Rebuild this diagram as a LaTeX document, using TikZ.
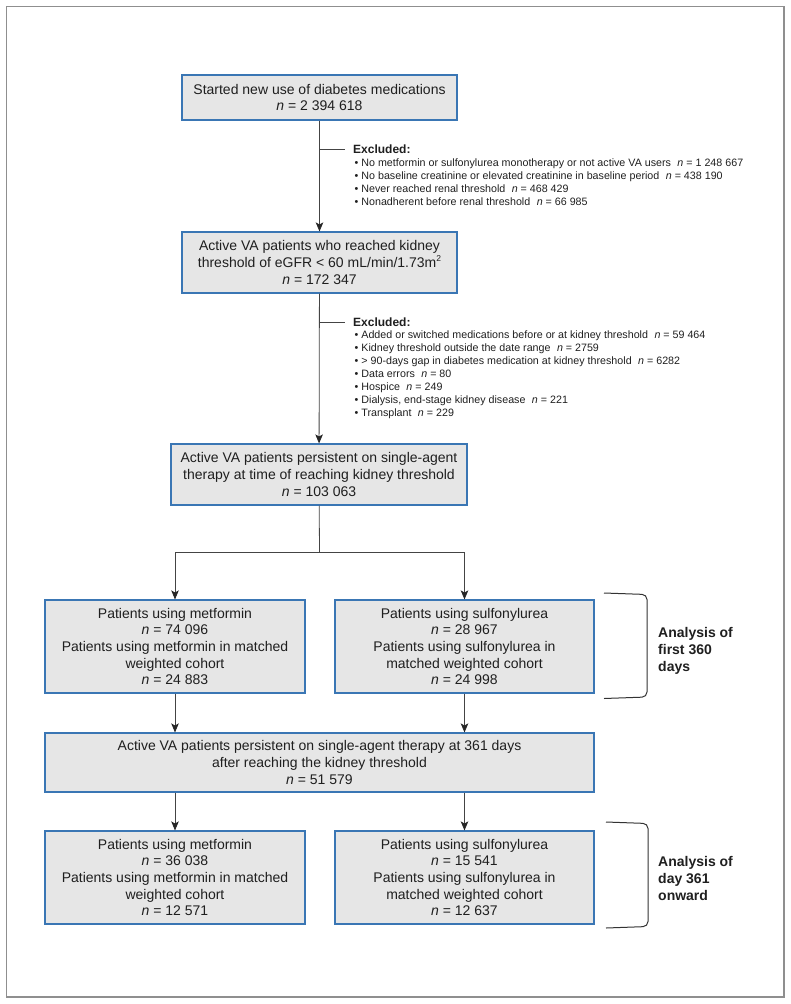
\documentclass[tikz,border=0pt]{standalone}
\usepackage{fontspec}
\setmainfont{Liberation Sans}
\usetikzlibrary{arrows.meta}
\definecolor{boxfill}{HTML}{E6E6E6}
\definecolor{boxline}{HTML}{3A76B4}
\definecolor{conn}{HTML}{444444}
\definecolor{framecol}{HTML}{8F8F8F}
\definecolor{txt}{HTML}{1F1F1F}
\begin{document}
\begin{tikzpicture}[x=1pt,y=-1pt,
  flowbox/.style={draw=boxline, line width=1.1pt, fill=boxfill, align=center, inner sep=0pt, text=txt, font=\fontsize{14}{16.6}\selectfont},
  arr/.style={draw=conn, line width=0.8pt, -{Stealth[length=9pt,width=7.5pt,inset=2pt,color=black!85]}},
  ln/.style={draw=conn, line width=0.8pt},
  exhead/.style={font=\bfseries\fontsize{12}{14}\selectfont, anchor=west, inner sep=0pt, text=txt},
  exlist/.style={font=\fontsize{10.7}{12.9}\selectfont, anchor=north west, align=left, inner sep=0pt, text=txt},
  bracketline/.style={draw=black!80, line width=1pt, rounded corners=5pt},
  side/.style={font=\bfseries\fontsize{14}{17}\selectfont, anchor=west, align=left, inner sep=0pt, text=txt}
]
\useasboundingbox (0,0) rectangle (791,1004);
\draw[framecol, line width=1.6pt] (6.5,6.5) rectangle (784,997);

% main boxes
\node[flowbox, minimum width=275pt, minimum height=45pt] (b1) at (319.5,97.5)
  {Started new use of diabetes medications\\\textit{n} = 2 394 618};
\node[flowbox, minimum width=275pt, minimum height=61pt] (b2) at (319.5,262.5)
  {Active VA patients who reached kidney\\threshold of eGFR < 60 mL/min/1.73m\raisebox{0.8ex}{\fontsize{8.5}{8}\selectfont 2}\\\textit{n} = 172 347};
\node[flowbox, minimum width=296pt, minimum height=61pt] (b3) at (319,474.5)
  {Active VA patients persistent on single-agent\\therapy at time of reaching kidney threshold\\\textit{n} = 103 063};
\node[flowbox, minimum width=260pt, minimum height=93pt] (b4l) at (175,646.5)
  {Patients using metformin\\\textit{n} = 74 096\\Patients using metformin in matched\\weighted cohort\\\textit{n} = 24 883};
\node[flowbox, minimum width=259pt, minimum height=93pt] (b4r) at (464.5,646.5)
  {Patients using sulfonylurea\\\textit{n} = 28 967\\Patients using sulfonylurea in\\matched weighted cohort\\\textit{n} = 24 998};
\node[flowbox, minimum width=549pt, minimum height=59pt] (b5) at (319.5,762.5)
  {Active VA patients persistent on single-agent therapy at 361 days\\after reaching the kidney threshold\\\textit{n} = 51 579};
\node[flowbox, minimum width=260pt, minimum height=93pt] (b6l) at (175,877.5)
  {Patients using metformin\\\textit{n} = 36 038\\Patients using metformin in matched\\weighted cohort\\\textit{n} = 12 571};
\node[flowbox, minimum width=259pt, minimum height=93pt] (b6r) at (464.5,877.5)
  {Patients using sulfonylurea\\\textit{n} = 15 541\\Patients using sulfonylurea in\\matched weighted cohort\\\textit{n} = 12 637};

% exclusions 1
\coordinate (x1) at (319.5,149);
\node[exhead] (e1h) at (353,149) {Excluded:};
\node[exlist] (e1l) at (354.5,158.5)
  {• No metformin or sulfonylurea monotherapy or not active VA users\hspace{0.6em}\textit{n} = 1 248 667\\
   • No baseline creatinine or elevated creatinine in baseline period\hspace{0.6em}\textit{n} = 438 190\\
   • Never reached renal threshold\hspace{0.6em}\textit{n} = 468 429\\
   • Nonadherent before renal threshold\hspace{0.6em}\textit{n} = 66 985};

% exclusions 2
\coordinate (x2) at (319.5,322);
\node[exhead] (e2h) at (353,322) {Excluded:};
\node[exlist] (e2l) at (354.5,331)
  {• Added or switched medications before or at kidney threshold\hspace{0.6em}\textit{n} = 59 464\\
   • Kidney threshold outside the date range\hspace{0.6em}\textit{n} = 2759\\
   • > 90-days gap in diabetes medication at kidney threshold\hspace{0.6em}\textit{n} = 6282\\
   • Data errors\hspace{0.6em}\textit{n} = 80\\
   • Hospice\hspace{0.6em}\textit{n} = 249\\
   • Dialysis, end-stage kidney disease\hspace{0.6em}\textit{n} = 221\\
   • Transplant\hspace{0.6em}\textit{n} = 229};

% connectors
\draw[arr] (b1) -- (b2);
\draw[ln] (x1) -- ([xshift=-8pt]e1h.west);
\draw[arr] (b2) -- (b3);
\draw[ln] (x2) -- ([xshift=-8pt]e2h.west);
\coordinate (s) at (319.5,552);
\draw[ln] (b3) -- (s);
\draw[arr] (s) -| (b4l);
\draw[arr] (s) -| (b4r);
\draw[arr] (b4l.south) -- (b4l.south |- b5.north);
\draw[arr] (b4r.south) -- (b4r.south |- b5.north);
\draw[arr] (b6l.north |- b5.south) -- (b6l.north);
\draw[arr] (b6r.north |- b5.south) -- (b6r.north);

% brackets
\draw[bracketline] (604,593) -- (647,594.5) -- (647,697) -- (604,698.5);
\node[side] (a1) at (658,651) {Analysis of\\first 360\\days};
\draw[bracketline] (606,822) -- (648,823.5) -- (648,926.5) -- (606,928);
\node[side] (a2) at (658,878) {Analysis of\\day 361\\onward};
\end{tikzpicture}
\end{document}
